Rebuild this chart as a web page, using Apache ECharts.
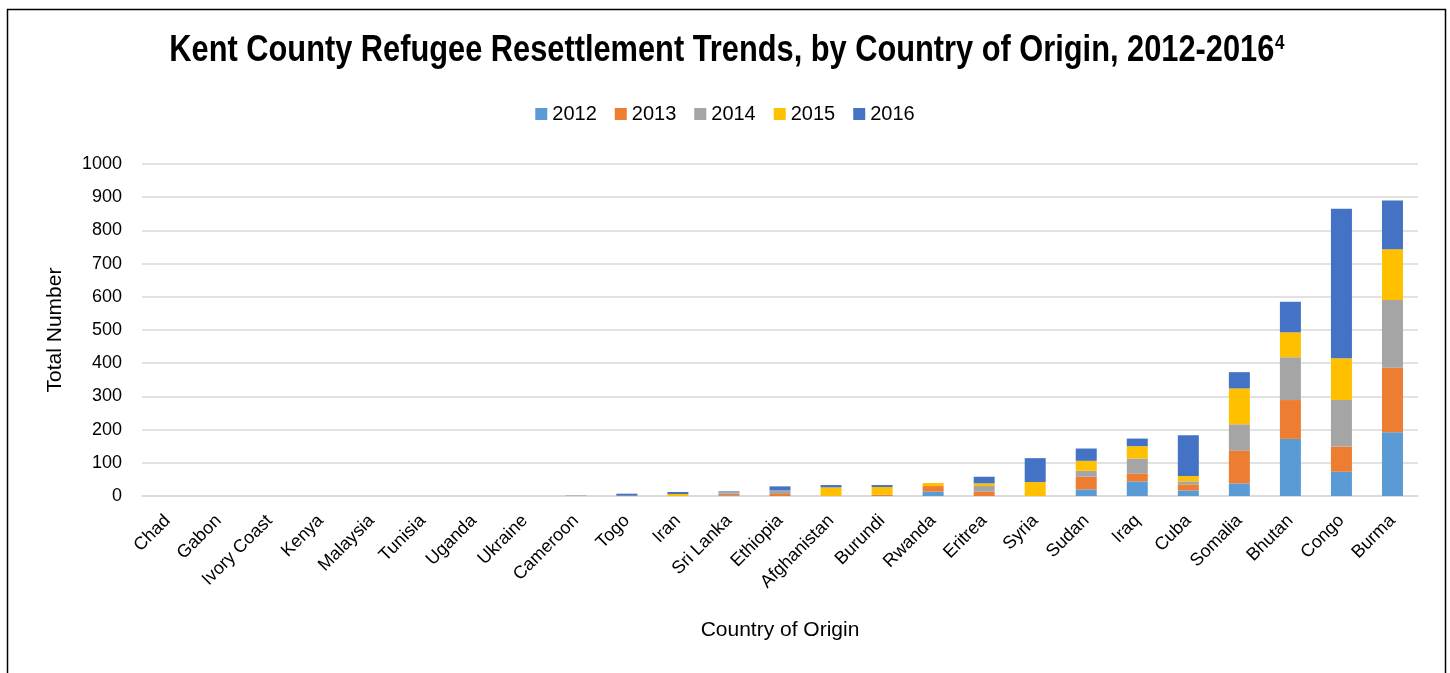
<!DOCTYPE html>
<html><head><meta charset="utf-8">
<script src="https://cdn.jsdelivr.net/npm/echarts@6/dist/echarts.min.js"></script>
<style>html,body{margin:0;padding:0;background:#fff}#c{width:1450px;height:673px}</style>
</head><body><div id="c"></div>
<script>
const categories = ["Chad","Gabon","Ivory Coast","Kenya","Malaysia","Tunisia","Uganda","Ukraine","Cameroon","Togo","Iran","Sri Lanka","Ethiopia","Afghanistan","Burundi","Rwanda","Eritrea","Syria","Sudan","Iraq","Cuba","Somalia","Bhutan","Congo","Burma"];
const years = ["2012","2013","2014","2015","2016"];
const v2012 = [0,0,0,0,0,0,0,0,1,0,0,2,0,0,0,13,0,0,20,44,17,38,172,73,192];
const v2013 = [0,0,0,0,0,0,0,0,0,1,0,5,6,0,4,17,13,0,38,23,18,98,117,76,194];
const v2014 = [0,0,0,0,0,0,0,0,1,0,0,7,11,0,0,0,17,0,18,46,9,80,129,140,204];
const v2015 = [0,0,0,0,0,0,0,0,0,0,6,0,0,26,23,9,8,42,30,37,16,108,75,126,153];
const v2016 = [0,0,0,0,0,0,0,0,0,6,6,1,12,7,6,0,20,72,37,23,123,49,92,450,147];
const yTicks = [0,100,200,300,400,500,600,700,800,900,1000];
const colors = ["#5b9bd5","#ed7d31","#a5a5a5","#ffc000","#4472c4"];
const seriesData = [v2012,v2013,v2014,v2015,v2016];
const FONT = "'Liberation Sans Narrow','Arial Narrow','Liberation Sans',sans-serif";

const chart = echarts.init(document.getElementById('c'));
chart.setOption({
  animation:false,
  textStyle:{fontFamily:FONT},
  legend:{
    top:99, left:'center', itemWidth:12, itemHeight:12, itemGap:18, icon:'rect',
    data:years,
    textStyle:{fontFamily:FONT,fontSize:20,color:'#000'}
  },
  graphic:[
    {type:'rect',shape:{x:7.5,y:9.5,width:1438,height:680},style:{fill:'none',stroke:'#000',lineWidth:1.5},silent:true},
    {type:'text', x:727, y:51, scaleX:0.855, silent:true,
     style:{
       text:"{t|Kent County Refugee Resettlement Trends, by Country of Origin, 2012-2016}{s|4}",
       align:'center', verticalAlign:'middle',
       rich:{
         t:{fontFamily:FONT,fontSize:36,fontWeight:'bold',fill:'#000',color:'#000'},
         s:{fontFamily:FONT,fontSize:20,fontWeight:'bold',fill:'#000',color:'#000',verticalAlign:'top',padding:[0,0,16,1]}
       }
     }}
  ],
  grid:{left:142,right:32,top:164,bottom:177},
  xAxis:{
    type:'category', data:categories,
    name:'Country of Origin', nameLocation:'middle', nameGap:124,
    nameTextStyle:{fontFamily:FONT,fontSize:21,color:'#000'},
    axisLine:{lineStyle:{color:'#d9d9d9',width:1.5}},
    axisTick:{show:false},
    axisLabel:{rotate:45,fontFamily:FONT,fontSize:18,color:'#000',interval:0,margin:22}
  },
  yAxis:{
    type:'value', min:0, max:1000, interval:100,
    name:'Total Number', nameLocation:'middle', nameGap:76, nameRotate:90,
    nameTextStyle:{fontFamily:FONT,fontSize:21,color:'#000'},
    axisLabel:{fontFamily:FONT,fontSize:18,color:'#000',margin:20,
      formatter:function(v){return yTicks.indexOf(v)>=0?String(v):'';}},
    splitLine:{lineStyle:{color:'#d9d9d9',width:1.5}},
    axisLine:{show:false},axisTick:{show:false}
  },
  series: years.map((y,i)=>({
    name:y, type:'bar', stack:'total', barWidth:21,
    data:seriesData[i],
    itemStyle:{color:colors[i]}
  }))
});
</script></body></html>
